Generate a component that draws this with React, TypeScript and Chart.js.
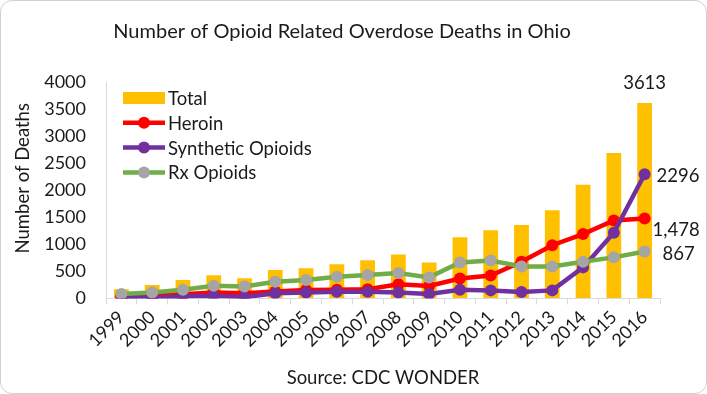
import React, { useEffect, useRef } from "react";
import { Chart, registerables } from "chart.js";

Chart.register(...registerables);

const chartTitle = "Number of Opioid Related Overdose Deaths in Ohio";
const yAxisTitle = "Number of Deaths";
const xAxisTitle = "Source: CDC WONDER";
const years = ["1999", "2000", "2001", "2002", "2003", "2004", "2005", "2006", "2007", "2008", "2009", "2010", "2011", "2012", "2013", "2014", "2015", "2016"];
const seriesNames = ["Total", "Heroin", "Synthetic Opioids", "Rx Opioids"];
const totalDeaths = [170, 250, 340, 430, 375, 525, 560, 635, 705, 815, 665, 1130, 1260, 1357, 1630, 2100, 2690, 3613];
const heroinDeaths = [35, 60, 80, 110, 95, 130, 155, 160, 170, 265, 230, 370, 425, 680, 985, 1190, 1440, 1478];
const syntheticDeaths = [40, 10, 40, 50, 25, 95, 110, 125, 125, 110, 85, 160, 150, 120, 150, 575, 1215, 2296];
const rxDeaths = [85, 110, 160, 235, 220, 310, 340, 400, 435, 470, 390, 665, 700, 590, 590, 680, 760, 867];
const endLabels = ["3613", "1,478", "2296", "867"];
const yMin = 0;
const yMax = 4000;
const yStep = 500;

const FONT = "Lato, 'Open Sans', sans-serif";
const TEXT = "#1a1a1a";

const legendPlugin = {
  id: "insideLegend",
  afterDatasetsDraw(chart: any) {
    const { ctx, chartArea } = chart;
    const x0 = chartArea.left + 17;
    const y0 = chartArea.top + 16;
    const gap = 24.8;
    ctx.save();
    ctx.font = `18.5px ${FONT}`;
    ctx.textBaseline = "middle";
    ctx.textAlign = "left";
    chart.data.datasets.forEach((ds: any, i: number) => {
      const cy = y0 + i * gap;
      if (ds.type === "bar") {
        ctx.fillStyle = ds.backgroundColor;
        ctx.fillRect(x0, cy - 6, 42, 12);
      } else {
        ctx.strokeStyle = ds.borderColor;
        ctx.lineWidth = ds.borderWidth;
        ctx.beginPath();
        ctx.moveTo(x0, cy);
        ctx.lineTo(x0 + 42, cy);
        ctx.stroke();
        ctx.fillStyle = ds.pointBackgroundColor;
        ctx.beginPath();
        ctx.arc(x0 + 21, cy, 6, 0, Math.PI * 2);
        ctx.fill();
      }
      ctx.fillStyle = TEXT;
      ctx.fillText(ds.label, x0 + 45, cy + 1);
    });
    ctx.restore();
  },
};

const yTitlePlugin = {
  id: "yTitle",
  afterDraw(chart: any) {
    const { ctx, chartArea } = chart;
    ctx.save();
    ctx.font = `18.5px ${FONT}`;
    ctx.fillStyle = TEXT;
    ctx.textAlign = "center";
    ctx.textBaseline = "middle";
    ctx.translate(23, (chartArea.top + chartArea.bottom) / 2 - 12);
    ctx.rotate(-Math.PI / 2);
    ctx.fillText(yAxisTitle, 0, 0);
    ctx.restore();
  },
};

const endLabelPlugin = {
  id: "endLabels",
  afterDatasetsDraw(chart: any) {
    const { ctx } = chart;
    ctx.save();
    ctx.font = `18.5px ${FONT}`;
    ctx.fillStyle = TEXT;
    ctx.textBaseline = "middle";
    const offsets = [
      { dx: 0, dy: -20, align: "center" },
      { dx: 8, dy: 12, align: "left" },
      { dx: 12, dy: 2, align: "left" },
      { dx: 18, dy: 2, align: "left" },
    ];
    chart.data.datasets.forEach((ds: any, i: number) => {
      const meta = chart.getDatasetMeta(i);
      const el = meta.data[meta.data.length - 1];
      if (!el) return;
      const o = offsets[i];
      ctx.textAlign = o.align;
      ctx.fillText(endLabels[i], el.x + o.dx, el.y + o.dy);
    });
    ctx.restore();
  },
};

export default function App() {
  const ref = useRef<HTMLCanvasElement | null>(null);

  useEffect(() => {
    if (!ref.current) return;
    const lineDs = (label: string, data: number[], line: string, point: string, order: number) => ({
      type: "line" as const,
      label,
      data,
      borderColor: line,
      backgroundColor: line,
      borderWidth: 4.5,
      pointBackgroundColor: point,
      pointBorderColor: point,
      pointRadius: 6,
      pointBorderWidth: 0,
      tension: 0,
      order,
    });
    const chart = new Chart(ref.current, {
      type: "bar",
      data: {
        labels: years,
        datasets: [
          {
            type: "bar",
            label: seriesNames[0],
            data: totalDeaths,
            backgroundColor: "#FFC000",
            categoryPercentage: 1,
            barPercentage: 0.48,
            order: 4,
          } as any,
          lineDs(seriesNames[1], heroinDeaths, "#FF0000", "#FF0000", 3),
          lineDs(seriesNames[2], syntheticDeaths, "#7030A0", "#7030A0", 2),
          lineDs(seriesNames[3], rxDeaths, "#70AD47", "#A5A5A5", 1),
        ],
      },
      options: {
        animation: false,
        responsive: false,
        layout: { padding: { left: 24, right: 47, top: 0, bottom: 0 } },
        plugins: {
          legend: { display: false },
          tooltip: { enabled: false },
          title: {
            display: true,
            text: chartTitle,
            color: TEXT,
            font: { family: FONT, size: 20, weight: "normal" },
            padding: { top: 20, bottom: 38 },
          },
        },
        scales: {
          x: {
            offset: true,
            grid: { display: true, drawOnChartArea: false, drawTicks: true, tickLength: 6, color: "#D9D9D9", offset: true },
            border: { display: true, color: "#D9D9D9", width: 1 },
            ticks: {
              autoSkip: false,
              minRotation: 45,
              maxRotation: 45,
              color: TEXT,
              padding: 2,
              font: { family: FONT, size: 18 },
            },
            title: {
              display: true,
              text: xAxisTitle,
              color: TEXT,
              font: { family: FONT, size: 18.5 },
              padding: { top: 0, bottom: 5 },
            },
            afterFit(scale: any) {
              scale.height = 95.5;
            },
          },
          y: {
            min: yMin,
            max: yMax,
            grid: { display: true, drawOnChartArea: false, drawTicks: false, color: "#D9D9D9" },
            border: { display: true, color: "#D9D9D9", width: 1 },
            ticks: {
              stepSize: yStep,
              color: TEXT,
              padding: 20,
              font: { family: FONT, size: 18 },
              callback: (v: any) => String(v),
            },
            title: { display: false, text: yAxisTitle },
            afterFit(scale: any) {
              scale.width = 82;
            },
          },
        },
      },
      plugins: [legendPlugin, endLabelPlugin, yTitlePlugin],
    });
    return () => chart.destroy();
  }, []);

  return (
    <div style={{ position: "fixed", left: 0, top: 0, width: 707, height: 394, background: "#fff" }}>
      <canvas ref={ref} width={707} height={394} style={{ position: "absolute", left: 0, top: 0, width: 707, height: 394 }} />
      <div
        style={{
          position: "absolute",
          left: 0,
          top: 0,
          width: 707,
          height: 394,
          boxSizing: "border-box",
          border: "1.5px solid #D0D0D0",
          borderRadius: 12,
          pointerEvents: "none",
        }}
      />
    </div>
  );
}
